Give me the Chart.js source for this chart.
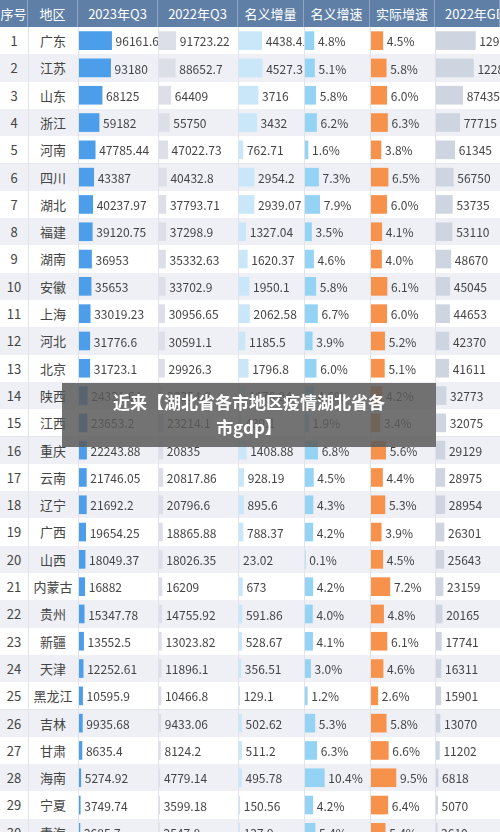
<!DOCTYPE html>
<html><head><meta charset="utf-8">
<script src="https://cdn.jsdelivr.net/npm/chart.js@4"></script>
<style>
body{margin:0;width:500px;height:832px;overflow:hidden;font-family:"Noto Sans CJK SC",sans-serif;background:#fff;position:relative}
.hdr{position:absolute;top:0;height:27px;background:#5f7fa6;color:#fff;font-size:13px;line-height:27px;text-align:center;border-right:1px solid #8ea6c4;box-sizing:border-box;white-space:nowrap;overflow:hidden}
.row{position:absolute;left:0;width:500px;height:27.3px}
.cell{position:absolute;font-size:13px;color:#444;text-align:center;line-height:27px}
.vline{position:absolute;top:27px;bottom:0;width:1px;background:#e0e3ea}
canvas{position:absolute}
#banner{position:absolute;left:62px;top:383px;width:374px;height:64px;background:rgba(90,90,90,0.85);color:#fff;font-weight:bold;font-size:17px;text-align:center;line-height:25px;padding-top:6px;box-sizing:border-box}
</style></head><body>
<div id="root"></div>
<script>
const headers=["序号","地区","2023年Q3","2022年Q3","名义增量","名义增速","实际增速","2022年GDP"];
const regions=["广东","江苏","山东","浙江","河南","四川","湖北","福建","湖南","安徽","上海","河北","北京","陕西","江西","重庆","云南","辽宁","广西","山西","内蒙古","贵州","新疆","天津","黑龙江","吉林","甘肃","海南","宁夏","青海"];
const q3_2023=[96161.6,93180,68125,59182,47785.44,43387,40237.97,39120.75,36953,35653,33019.23,31776.6,31723.1,24331.64,23653.2,22243.88,21746.05,21692.2,19654.25,18049.37,16882,15347.78,13552.5,12252.61,10595.9,9935.68,8635.4,5274.92,3749.74,2685.7];
const q3_2022=[91723.22,88652.7,64409,55750,47022.73,40432.8,37793.71,37298.9,35332.63,33702.9,30956.65,30591.1,29926.3,23254.8,23214.1,20835,20817.86,20796.6,18865.88,18026.35,16209,14755.92,13023.82,11896.1,10466.8,9433.06,8124.2,4779.14,3599.18,2547.8];
const incr=[4438.41,4527.3,3716,3432,762.71,2954.2,2939.07,1327.04,1620.37,1950.1,2062.58,1185.5,1796.8,1076.84,439.1,1408.88,928.19,895.6,788.37,23.02,673,591.86,528.67,356.51,129.1,502.62,511.2,495.78,150.56,137.9];
const nominal=[4.8,5.1,5.8,6.2,1.6,7.3,7.9,3.5,4.6,5.8,6.7,3.9,6.0,4.6,1.9,6.8,4.5,4.3,4.2,0.1,4.2,4.0,4.1,3.0,1.2,5.3,6.3,10.4,4.2,5.4];
const real=[4.5,5.8,6.0,6.3,3.8,6.5,6.0,4.1,4.0,6.1,6.0,5.2,5.1,4.2,3.4,5.6,4.4,5.3,3.9,4.5,7.2,4.8,6.1,4.6,2.6,5.8,6.6,9.5,6.4,5.4];
const gdp2022=[129118.58,122875.6,87435,77715,61345,56750,53735,53110,48670,45045,44653,42370,41611,32773,32075,29129,28975,28954,26301,25643,23159,20165,17741,16311,15901,13070,11202,6818,5070,3610];

const colX=[0,28,78,158,238,304,370,435,500];
const rowH=27.3, top0=27;
const root=document.getElementById('root');
regions.forEach((r,i)=>{
  const d=document.createElement('div');d.className='row';
  d.style.top=(top0+i*rowH)+'px';d.style.background=i%2?'#eef0f5':'#fff';
  d.style.borderBottom='1px solid #e3e6ec';
  const a=document.createElement('div');a.className='cell';a.style.left='0px';a.style.width='28px';a.textContent=i+1;
  const b=document.createElement('div');b.className='cell';b.style.left='28px';b.style.width='50px';b.textContent=r;
  d.appendChild(a);d.appendChild(b);root.appendChild(d);
});
for(let k=1;k<colX.length-1;k++){const v=document.createElement('div');v.className='vline';v.style.left=colX[k]+'px';root.appendChild(v);}
headers.forEach((h,i)=>{
  const d=document.createElement('div');d.className='hdr';d.style.left=colX[i]+'px';
  d.style.width=(colX[i+1]-colX[i])+'px';d.textContent=h;
  if(i===7){d.style.textAlign='left';d.style.paddingLeft='10px';}
  root.appendChild(d);
});
const cols=[
 {data:q3_2023,max:233000,color:'#4c9eea',fmt:v=>String(v)},
 {data:q3_2022,max:431000,color:'#dcdfe8',fmt:v=>String(v)},
 {data:incr,max:12700,color:'#c9e7f9',fmt:v=>String(v)},
 {data:nominal,max:35,color:'#94d3f3',fmt:v=>v.toFixed(1)+'%'},
 {data:real,max:24.4,color:'#f7924c',fmt:v=>v.toFixed(1)+'%'},
 {data:gdp2022,max:210000,color:'#ced5e1',fmt:v=>String(Math.round(v))}
];
cols.forEach((c,k)=>{
  const cv=document.createElement('canvas');
  const w=colX[k+3]-colX[k+2]-1, h=Math.round(rowH*regions.length);
  cv.style.left=(colX[k+2]+1)+'px';cv.style.top=top0+'px';
  cv.width=w;cv.height=h;cv.style.width=w+'px';cv.style.height=h+'px';
  root.appendChild(cv);
  const lbl={id:'lbl'+k,afterDatasetsDraw(chart){
    const ctx=chart.ctx,meta=chart.getDatasetMeta(0);
    ctx.save();ctx.font='12px "Noto Sans CJK SC", sans-serif';ctx.fillStyle='#444';ctx.textBaseline='middle';
    meta.data.forEach((el,i)=>{ctx.fillText(c.fmt(c.data[i]),el.x+4,el.y+1);});
    ctx.restore();}};
  new Chart(cv,{type:'bar',data:{labels:regions,datasets:[{data:c.data,backgroundColor:c.color,barThickness:18,borderWidth:0}]},
   options:{indexAxis:'y',responsive:false,animation:false,maintainAspectRatio:false,devicePixelRatio:1,layout:{padding:0},
    scales:{x:{display:false,min:0,max:c.max},y:{display:false}},
    plugins:{legend:{display:false},tooltip:{enabled:false}}},
   plugins:[lbl]});
});
const bn=document.createElement('div');bn.id='banner';bn.innerHTML='近来【湖北省各市地区疫情湖北省各<br>市gdp】';root.appendChild(bn);
</script></body></html>
